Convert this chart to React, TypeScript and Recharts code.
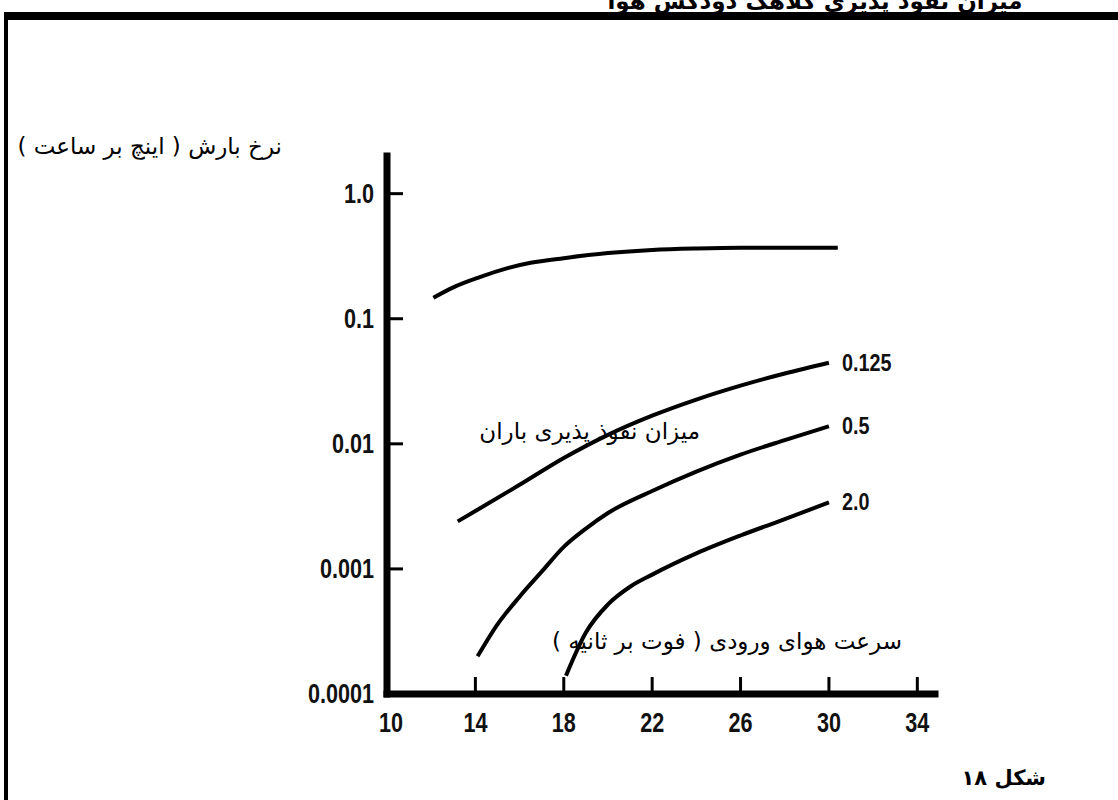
import { LineChart, Line, XAxis, YAxis } from 'recharts';

const xTicks = [10, 14, 18, 22, 26, 30, 34];
const yTicks = [0.0001, 0.001, 0.01, 0.1, 1];
const yTickLabels = ['0.0001', '0.001', '0.01', '0.1', '1.0'];

// inlet air speed (ft/s) vs rain rate (in/h), one curve per penetration level
const topSpeed = [12.1, 13, 14.2, 15.5, 16.5, 18, 20, 22, 24, 26, 28, 30.4];
const topRate = [0.147, 0.178, 0.215, 0.255, 0.28, 0.305, 0.335, 0.355, 0.365, 0.37, 0.37, 0.37];

const p125Speed = [13.2, 14, 16, 18, 20, 22, 24, 26, 28, 30];
const p125Rate = [0.0024, 0.0029, 0.0047, 0.0077, 0.0118, 0.0168, 0.0226, 0.0292, 0.0365, 0.0445];

const p05Speed = [14.1, 15, 16, 17, 18, 19, 20, 22, 24, 26, 28, 30];
const p05Rate = [0.0002, 0.00036, 0.0006, 0.00095, 0.0015, 0.0021, 0.0028, 0.0042, 0.006, 0.0082, 0.0107, 0.0138];

const p2Speed = [18.1, 19, 20, 21, 22, 24, 26, 28, 30];
const p2Rate = [0.00014, 0.00031, 0.00052, 0.00072, 0.0009, 0.00133, 0.00185, 0.0025, 0.0034];

const seriesLabels = ['', '0.125', '0.5', '2.0'];

const pairUp = (xs: number[], ys: number[]) => xs.map((x, i) => ({ x, y: ys[i] }));

const series = [
  pairUp(topSpeed, topRate),
  pairUp(p125Speed, p125Rate),
  pairUp(p05Speed, p05Rate),
  pairUp(p2Speed, p2Rate),
];

const tickFont = "'Liberation Sans', Arial, sans-serif";
const faFont = "'DejaVu Sans', sans-serif";

function YTick(props: any) {
  const { x, y, payload } = props;
  const i = yTicks.indexOf(payload.value);
  const label = i >= 0 ? yTickLabels[i] : String(payload.value);
  return (
    <g>
      {payload.value !== 0.0001 && (
        <line x1={x} x2={x + 16} y1={y} y2={y} stroke="#000" strokeWidth={3} />
      )}
      <text
        transform={`translate(${x - 13},${y + 9}) scale(0.9,1.15)`}
        textAnchor="end"
        fontFamily={tickFont}
        fontWeight="bold"
        fontSize={24}
        fill="#111"
      >
        {label}
      </text>
    </g>
  );
}

function XTick(props: any) {
  const { x, y, payload } = props;
  const first = payload.value === 10;
  return (
    <g>
      {!first && <line x1={x} x2={x} y1={y} y2={y - 17} stroke="#000" strokeWidth={3} />}
      <text
        transform={`translate(${x + (first ? 4 : 0)},${y + 38}) scale(0.9,1.15)`}
        textAnchor="middle"
        fontFamily={tickFont}
        fontWeight="bold"
        fontSize={24}
        fill="#111"
      >
        {payload.value}
      </text>
    </g>
  );
}

const endLabel = (name: string, last: number) => (p: any) => {
  if (!name || p.index !== last) return null;
  return (
    <text
      transform={`translate(${p.x + 13},${p.y + 8}) scale(0.9,1.1)`}
      fontFamily={tickFont}
      fontWeight="bold"
      fontSize={22}
      fill="#111"
    >
      {name}
    </text>
  );
};

const faText = { position: 'absolute' as const, fontFamily: faFont, fontSize: 23, direction: 'rtl' as const, whiteSpace: 'nowrap' as const, color: '#000' };

export default function App() {
  return (
    <div style={{ position: 'absolute', left: 0, top: 0, width: 1118, height: 800, background: '#fff', overflow: 'hidden' }}>
      <div style={{ position: 'absolute', left: 595, width: 440, top: -10, fontFamily: faFont, fontWeight: 'bold', fontSize: 23, lineHeight: '22px', direction: 'rtl', textAlign: 'center', whiteSpace: 'nowrap' }}>
        میزان نفوذ پذیری کلاهک دودکش هوا
      </div>
      <div style={{ position: 'absolute', left: 5, top: 12, width: 1113, height: 8, background: '#000' }} />
      <div style={{ position: 'absolute', left: 4, top: 12, width: 4, height: 788, background: '#000' }} />

      <LineChart width={1118} height={800} margin={{ top: 156, right: 183, bottom: 66, left: 327 }}>
        <XAxis
          type="number"
          dataKey="x"
          domain={[10, 34.8]}
          ticks={xTicks}
          allowDataOverflow
          height={40}
          tickSize={0}
          tickMargin={0}
          tickLine={false}
          axisLine={{ stroke: '#000', strokeWidth: 7, strokeLinecap: 'square' }}
          tick={<XTick />}
        />
        <YAxis
          type="number"
          dataKey="y"
          scale="log"
          domain={[0.0001, 2]}
          ticks={yTicks}
          allowDataOverflow
          width={60}
          tickSize={0}
          tickMargin={0}
          tickLine={false}
          axisLine={{ stroke: '#000', strokeWidth: 7, strokeLinecap: 'square' }}
          tick={<YTick />}
        />
        {series.map((d, i) => (
          <Line
            key={i}
            data={d}
            dataKey="y"
            type="monotone"
            stroke="#000"
            strokeWidth={4}
            dot={false}
            isAnimationActive={false}
            label={endLabel(seriesLabels[i], d.length - 1)}
          />
        ))}
      </LineChart>

      <div style={{ ...faText, right: 1118 - 282, top: 133 }}>نرخ بارش ( اینچ بر ساعت )</div>
      <div style={{ ...faText, right: 1118 - 700, top: 418 }}>میزان نفوذ پذیری باران</div>
      <div style={{ ...faText, right: 1118 - 902, top: 628 }}>سرعت هوای ورودی ( فوت بر ثانیه )</div>
      <div style={{ ...faText, right: 1118 - 1046, top: 766, fontWeight: 'bold', fontSize: 21 }}>شکل ۱۸</div>
    </div>
  );
}
